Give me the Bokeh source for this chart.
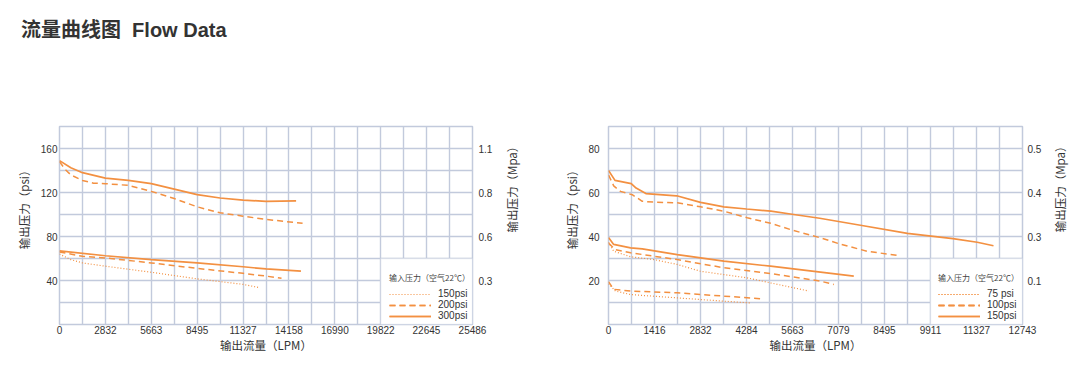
import math
from bokeh.plotting import figure
from bokeh.models import (Range1d, LinearAxis, FixedTicker, Legend, LegendItem,
                          BoxAnnotation, Div)
from bokeh.layouts import column, row
from bokeh.embed import file_html
from bokeh.resources import INLINE

# ---------------- data: left chart (large regulator) ----------------
L_x_max = 25486
L_y_max = 180
L_x_ticks = [0, 2832, 5663, 8495, 11327, 14158, 16990, 19822, 22645, 25486]
L_x_labels = ["0", "2832", "5663", "8495", "11327", "14158", "16990", "19822", "22645", "25486"]
L_y_ticks = [40, 80, 120, 160]
L_mpa_labels = ["0.3", "0.6", "0.8", "1.1"]
L_legend = ["150psi", "200psi", "300psi"]

L300_hi_x = [0, 700, 1416, 2832, 4248, 5663, 7079, 8495, 9911, 11327, 12743, 14600]
L300_hi_y = [149, 142.5, 138, 133, 131, 128, 123, 118, 115, 113, 112, 112.3]
L200_hi_x = [0, 350, 700, 1416, 2100, 2832, 4248, 5663, 7079, 8495, 9911, 11327, 12743, 15000]
L200_hi_y = [148, 141, 136, 131, 128.5, 128, 126.5, 121, 114.5, 107, 101.5, 98.5, 95.5, 92]
L300_lo_x = [0, 2832, 5663, 8495, 11327, 12743, 14900]
L300_lo_y = [67, 62.5, 59, 56, 52.5, 50.5, 48.5]
L200_lo_x = [0, 1416, 2832, 5663, 8495, 11327, 12743, 13700]
L200_lo_y = [66, 62, 60.5, 56, 51, 46.5, 44, 42]
L150_lo_x = [0, 700, 1416, 2832, 5663, 8495, 11327, 12350]
L150_lo_y = [64, 59, 56, 53, 47.5, 41.5, 36.5, 33.5]

# ---------------- data: right chart (small regulator) ----------------
R_x_max = 12743
R_y_max = 90
R_x_ticks = [0, 1416, 2832, 4248, 5663, 7079, 8495, 9911, 11327, 12743]
R_x_labels = ["0", "1416", "2832", "4284", "5663", "7079", "8495", "9911", "11327", "12743"]
R_y_ticks = [20, 40, 60, 80]
R_mpa_labels = ["0.1", "0.3", "0.4", "0.5"]
R_legend = ["75 psi", "100psi", "150psi"]

R150_hi_x = [0, 200, 700, 850, 1150, 2100, 2832, 3550, 4250, 5000, 5700, 6500, 7800, 9200, 10600, 11350, 11850]
R150_hi_y = [70, 65.5, 64, 62, 59.5, 58.5, 55.5, 53.5, 52.5, 51.5, 50, 48.3, 45, 41.4, 39, 37.4, 35.8]
R100_hi_x = [0, 160, 370, 730, 1040, 1400, 2115, 2832, 3550, 4270, 4990, 5700, 6525, 7140, 7960, 8890]
R100_hi_y = [68, 63, 60.5, 59, 56, 55.6, 55.3, 53.5, 51.5, 48.5, 46, 42.7, 39.4, 36.5, 33.3, 31.4]
R150_lo_x = [0, 160, 680, 1040, 2115, 3550, 4990, 6525, 7550]
R150_lo_y = [39.5, 36.4, 34.8, 34.4, 31.8, 28.8, 26.5, 23.8, 22]
R100_lo_x = [0, 215, 680, 2115, 3550, 4990, 6525, 6935]
R100_lo_y = [37, 34, 32.6, 29.5, 25.8, 23.2, 19.7, 18.2]
R75_lo_x = [0, 160, 680, 1400, 2115, 2832, 3550, 4270, 4990, 5700, 6165]
R75_lo_y = [37.5, 33.3, 30.8, 29.5, 27.3, 24.2, 22.7, 21.2, 18.9, 16.7, 15.2]
R100_min_x = [0, 160, 680, 2115, 3550, 4780]
R100_min_y = [19.5, 16, 15.2, 14.4, 12.9, 11.6]
R75_min_x = [0, 215, 680, 2115, 3550, 4370]
R75_min_y = [18.5, 15.2, 13.6, 12.1, 10.6, 9.8]

# ---------------- styling ----------------
ORANGE = "#f39041"
GRID = "#c2cadc"
TXT = "#333333"
CJK = "Noto Sans CJK SC"
LAT = "Liberation Sans"
STYLE = {
    "dotted": dict(line_dash="1 2", line_width=1.2),
    "dashed": dict(line_dash="6 4", line_width=1.5),
    "solid": dict(line_dash="solid", line_width=1.7),
}


def plain_axis(ax):
    ax.axis_line_color = None
    ax.major_tick_line_color = None
    ax.minor_tick_line_color = None
    ax.major_tick_out = 0
    ax.major_tick_in = 0
    ax.minor_tick_out = 0
    ax.minor_tick_in = 0


def title_axis(text, ypos, standoff):
    """An extra axis with a single tick whose label is the rotated axis title."""
    ax = LinearAxis(ticker=FixedTicker(ticks=[ypos]),
                    major_label_overrides={ypos: text},
                    major_label_orientation=math.pi / 2)
    plain_axis(ax)
    ax.major_label_standoff = standoff
    ax.major_label_text_font = CJK
    ax.major_label_text_font_size = "11.5px"
    ax.major_label_text_color = TXT
    return ax


def make_chart(xmax, ymax, xticks, xlabels, yticks, mpa_labels, series, legend_labels,
               frame_w, min_left, min_right, ylab_standoff, rlab_standoff,
               ltitle_standoff, rtitle_standoff):
    p = figure(frame_width=frame_w, frame_height=198, output_backend="svg",
               toolbar_location=None,
               x_range=Range1d(0, xmax), y_range=Range1d(0, ymax),
               min_border_left=min_left, min_border_right=min_right,
               min_border_top=27, min_border_bottom=40)
    p.background_fill_color = "white"
    p.border_fill_color = "white"
    p.outline_line_color = GRID
    p.outline_line_width = 1.5

    # grid: 18 columns x 9 rows
    p.xgrid.ticker = FixedTicker(ticks=[xmax * k / 18 for k in range(1, 18)])
    p.ygrid.ticker = FixedTicker(ticks=[ymax * k / 9 for k in range(1, 9)])
    for g in (p.xgrid, p.ygrid):
        g.grid_line_color = GRID
        g.grid_line_width = 1.4

    # bottom axis
    xa = p.xaxis[0]
    xa.ticker = FixedTicker(ticks=xticks)
    xa.major_label_overrides = {t: l for t, l in zip(xticks, xlabels)}
    xa.axis_label = "输出流量（LPM）"
    xa.axis_label_text_font = CJK
    xa.axis_label_text_font_size = "11.5px"
    xa.axis_label_text_font_style = "normal"
    xa.axis_label_text_color = TXT
    xa.axis_label_standoff = 0
    xa.major_label_standoff = 1

    # left axis (psi)
    ya = p.yaxis[0]
    ya.ticker = FixedTicker(ticks=yticks)
    ya.major_label_standoff = ylab_standoff

    # right axis (MPa)
    ra = LinearAxis(ticker=FixedTicker(ticks=yticks),
                    major_label_overrides={t: l for t, l in zip(yticks, mpa_labels)})
    ra.major_label_standoff = rlab_standoff
    p.add_layout(ra, "right")

    for ax in (xa, ya, ra):
        plain_axis(ax)
        ax.major_label_text_font = LAT
        ax.major_label_text_font_size = "10px"
        ax.major_label_text_color = TXT

    # rotated axis titles (reading bottom-to-top on both sides)
    p.add_layout(title_axis("输出压力（psi）", round(ymax * 0.808, 1), ltitle_standoff), "left")
    p.add_layout(title_axis("输出压力（Mpa）", round(ymax * 0.465, 1), rtitle_standoff), "right")

    # curves
    groups = {}
    for xs, ys, st in series:
        r = p.line(xs, ys, line_color=ORANGE, **STYLE[st])
        groups.setdefault(st, []).append(r)

    # white legend panel (4 columns x 3 rows in the bottom-right corner)
    p.add_layout(BoxAnnotation(left=xmax * 14 / 18, right=xmax, bottom=0, top=ymax * 3 / 9,
                               fill_color="white", fill_alpha=1.0,
                               line_color=GRID, line_width=1.4, level="overlay"))
    items = [LegendItem(label=lab, renderers=groups[st])
             for lab, st in zip(legend_labels, ["dotted", "dashed", "solid"])]
    leg = Legend(items=items, title="输入压力（空气22℃）", location=(330, 3))
    leg.level = "overlay"
    leg.padding = 5
    leg.margin = 0
    leg.spacing = -1
    leg.label_height = 10
    leg.glyph_height = 10
    leg.glyph_width = 42
    leg.label_standoff = 7
    leg.label_text_font = LAT
    leg.label_text_font_size = "10px"
    leg.label_text_line_height = 1.0
    leg.label_text_color = TXT
    leg.title_text_font = CJK
    leg.title_text_font_size = "8px"
    leg.title_text_font_style = "normal"
    leg.title_text_color = "#444444"
    leg.title_standoff = 5
    leg.background_fill_alpha = 0
    leg.border_line_color = None
    p.add_layout(leg)
    return p


left_series = [
    (L150_lo_x, L150_lo_y, "dotted"),
    (L200_hi_x, L200_hi_y, "dashed"),
    (L200_lo_x, L200_lo_y, "dashed"),
    (L300_hi_x, L300_hi_y, "solid"),
    (L300_lo_x, L300_lo_y, "solid"),
]
right_series = [
    (R75_lo_x, R75_lo_y, "dotted"),
    (R75_min_x, R75_min_y, "dotted"),
    (R100_hi_x, R100_hi_y, "dashed"),
    (R100_lo_x, R100_lo_y, "dashed"),
    (R100_min_x, R100_min_y, "dashed"),
    (R150_hi_x, R150_hi_y, "solid"),
    (R150_lo_x, R150_lo_y, "solid"),
]

p1 = make_chart(L_x_max, L_y_max, L_x_ticks, L_x_labels, L_y_ticks, L_mpa_labels,
                left_series, L_legend, frame_w=413, min_left=59, min_right=68,
                ylab_standoff=2, rlab_standoff=6, ltitle_standoff=13, rtitle_standoff=17)
p2 = make_chart(R_x_max, R_y_max, R_x_ticks, R_x_labels, R_y_ticks, R_mpa_labels,
                right_series, R_legend, frame_w=414, min_left=68, min_right=54,
                ylab_standoff=9, rlab_standoff=5, ltitle_standoff=13, rtitle_standoff=16)

title = Div(text="流量曲线图&nbsp;&nbsp;Flow Data", width=1060, height=89,
            styles={"font-size": "20px", "font-weight": "bold",
                    "font-family": "'Liberation Sans', 'Noto Sans CJK SC', sans-serif",
                    "color": "#333333", "padding-left": "16px", "padding-top": "11px"})

layout = column(title, row(p1, p2))
html = file_html(layout, INLINE)
html = html.replace("<body>", '<body style="margin:0;overflow:hidden;">', 1)
open("out.html", "w").write(html)
